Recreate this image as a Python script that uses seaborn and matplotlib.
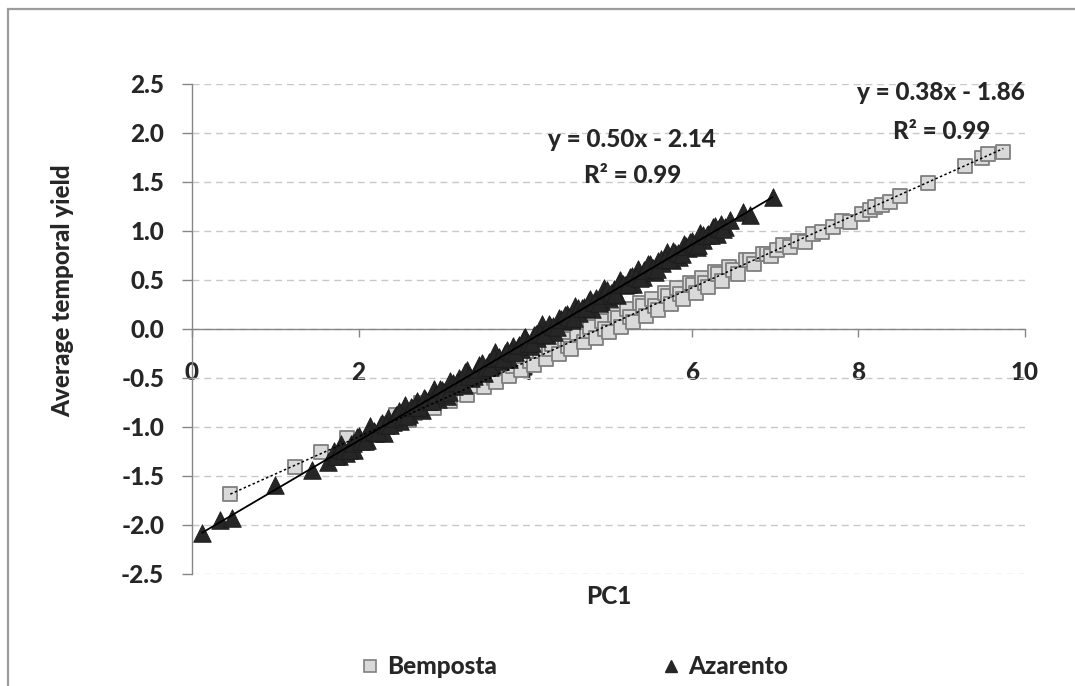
import matplotlib
matplotlib.use("Agg")
import matplotlib.pyplot as plt
from matplotlib.lines import Line2D
from matplotlib.patches import Rectangle
import seaborn as sns

# ---- data -------------------------------------------------------------
bemposta_pc1 = [0.46, 1.24, 1.55, 1.86, 2.20, 2.35, 2.45, 2.60, 2.68, 2.75,
                2.90, 3.00, 3.05, 3.10, 3.20, 3.30, 3.35, 3.40, 3.50, 3.58,
                3.62, 3.65, 3.72, 3.80, 3.85, 3.88, 3.95, 4.02, 4.06, 4.10,
                4.18, 4.25, 4.28, 4.32, 4.40, 4.48, 4.51, 4.55, 4.62, 4.70,
                4.74, 4.78, 4.85, 4.92, 4.96, 5.00, 5.08, 5.12, 5.15, 5.22,
                5.26, 5.30, 5.38, 5.41, 5.45, 5.52, 5.56, 5.60, 5.68, 5.71,
                5.75, 5.82, 5.86, 5.90, 5.98, 6.01, 6.05, 6.12, 6.16, 6.20,
                6.28, 6.32, 6.36, 6.45, 6.50, 6.55, 6.65, 6.70, 6.75, 6.85,
                6.90, 6.95, 7.02, 7.10, 7.18, 7.27, 7.36, 7.46, 7.56, 7.70,
                7.80, 7.90, 8.04, 8.14, 8.20, 8.28, 8.38, 8.50, 8.84, 9.28,
                9.48, 9.56, 9.74]
bemposta_yield = [-1.68, -1.41, -1.26, -1.11, -1.07, -0.97, -0.88, -0.93, -0.86, -0.76,
                  -0.81, -0.66, -0.71, -0.74, -0.60, -0.67, -0.58, -0.50, -0.59, -0.45,
                  -0.50, -0.54, -0.39, -0.48, -0.38, -0.33, -0.42, -0.27, -0.33, -0.37,
                  -0.22, -0.31, -0.20, -0.15, -0.26, -0.10, -0.17, -0.20, -0.04, -0.13,
                  -0.02, 0.02, -0.09, 0.08, 0.00, -0.03, 0.14, 0.11, 0.02, 0.20,
                  0.12, 0.07, 0.26, 0.23, 0.13, 0.31, 0.23, 0.19, 0.37, 0.34,
                  0.25, 0.42, 0.36, 0.31, 0.47, 0.45, 0.37, 0.52, 0.47, 0.43,
                  0.58, 0.56, 0.49, 0.63, 0.60, 0.56, 0.70, 0.70, 0.66, 0.77,
                  0.76, 0.74, 0.81, 0.86, 0.84, 0.90, 0.89, 0.97, 0.99, 1.04,
                  1.10, 1.09, 1.17, 1.21, 1.24, 1.26, 1.30, 1.36, 1.49, 1.66,
                  1.74, 1.79, 1.81]

azarento_pc1 = [0.12, 0.34, 0.48, 1.00, 1.44, 1.63,
                1.70, 1.76, 1.79, 1.85, 1.91, 1.94, 2.00, 2.06, 2.10, 2.14,
                2.20, 2.26, 2.30, 2.35, 2.41, 2.45, 2.50, 2.56, 2.60, 2.64,
                2.70, 2.76, 2.80, 2.85, 2.91, 2.95, 3.00, 3.06, 3.10, 3.14,
                3.20, 3.26, 3.30, 3.35, 3.41, 3.45, 3.50, 3.56, 3.60, 3.64,
                3.70, 3.76, 3.80, 3.85, 3.91, 3.95, 4.00, 4.06, 4.10, 4.14,
                4.20, 4.26, 4.30, 4.35, 4.41, 4.45, 4.50, 4.56, 4.60, 4.64,
                4.70, 4.76, 4.80, 4.85, 4.91, 4.95, 5.00, 5.06, 5.10, 5.14,
                5.20, 5.26, 5.30, 5.35, 5.41, 5.45, 5.50, 5.56, 5.60, 5.64,
                5.70, 5.76, 5.80, 5.85, 5.91, 5.95, 6.00, 6.06, 6.10, 6.14,
                6.20, 6.26, 6.30, 6.35, 6.40,
                1.73, 1.78, 1.83, 1.88, 1.93, 1.98, 2.03, 2.08, 2.13, 2.18,
                2.23, 2.28, 2.33, 2.38, 2.43, 2.48, 2.53, 2.58, 2.63, 2.68,
                2.73, 2.78, 2.83, 2.88, 2.93, 2.98, 3.03, 3.08, 3.13, 3.18,
                3.23, 3.28, 3.33, 3.38, 3.43, 3.48, 3.53, 3.58, 3.63, 3.68,
                3.73, 3.78, 3.83, 3.88, 3.93, 3.98, 4.03, 4.08, 4.13, 4.18,
                4.23, 4.28, 4.33, 4.38, 4.43, 4.48, 4.53, 4.58, 4.63, 4.68,
                4.73, 4.78, 4.83, 4.88, 4.93, 4.98, 5.03, 5.08, 5.13, 5.18,
                5.23, 5.28, 5.33, 5.38, 5.43, 5.48, 5.53, 5.58, 5.63, 5.68,
                5.73, 5.78, 5.83, 5.88, 5.93, 5.98, 6.03, 6.08, 6.13, 6.18,
                6.23, 6.28, 6.33, 6.38,
                6.46, 6.61, 6.70, 6.97]
azarento_yield = [-2.08, -1.95, -1.93, -1.59, -1.44, -1.36,
                  -1.25, -1.30, -1.17, -1.27, -1.17, -1.23, -1.09, -1.12, -1.13, -0.99,
                  -1.06, -0.99, -1.06, -0.91, -0.95, -0.88, -0.94, -0.78, -0.87, -0.81,
                  -0.74, -0.83, -0.71, -0.74, -0.61, -0.71, -0.62, -0.68, -0.53, -0.58,
                  -0.50, -0.57, -0.42, -0.50, -0.44, -0.37, -0.45, -0.34, -0.36, -0.24,
                  -0.33, -0.25, -0.31, -0.17, -0.18, -0.20, -0.08, -0.17, -0.06, -0.09,
                  0.05, -0.06, 0.03, -0.03, 0.11, 0.08, 0.15, 0.09, 0.23, 0.16,
                  0.22, 0.29, 0.20, 0.32, 0.29, 0.42, 0.32, 0.41, 0.35, 0.50,
                  0.45, 0.53, 0.46, 0.61, 0.53, 0.59, 0.66, 0.58, 0.69, 0.67,
                  0.79, 0.70, 0.78, 0.73, 0.87, 0.83, 0.90, 0.84, 0.98, 0.91,
                  0.97, 1.04, 0.97, 1.07, 1.04,
                  -1.30, -1.22, -1.23, -1.23, -1.16, -1.10, -1.14, -1.14, -1.05, -1.04,
                  -1.05, -0.96, -0.98, -0.98, -0.91, -0.84, -0.89, -0.89, -0.80, -0.79,
                  -0.80, -0.70, -0.73, -0.73, -0.66, -0.61, -0.64, -0.64, -0.55, -0.54,
                  -0.55, -0.44, -0.48, -0.48, -0.41, -0.35, -0.39, -0.39, -0.30, -0.29,
                  -0.30, -0.21, -0.23, -0.23, -0.16, -0.09, -0.14, -0.14, -0.05, -0.04,
                  -0.05, 0.05, 0.03, 0.02, 0.10, 0.14, 0.12, 0.11, 0.21, 0.21,
                  0.21, 0.31, 0.28, 0.27, 0.35, 0.40, 0.37, 0.36, 0.46, 0.46,
                  0.46, 0.54, 0.53, 0.52, 0.60, 0.66, 0.62, 0.61, 0.71, 0.71,
                  0.71, 0.80, 0.78, 0.77, 0.85, 0.89, 0.87, 0.86, 0.96, 0.96,
                  0.96, 1.05, 1.03, 1.02,
                  1.11, 1.19, 1.16, 1.35]

# linear trend lines: slope, intercept, R^2
bemposta_slope, bemposta_intercept, bemposta_r2 = 0.38, -1.86, 0.99
azarento_slope, azarento_intercept, azarento_r2 = 0.50, -2.14, 0.99

x_ticks = [0, 2, 4, 6, 8, 10]
y_ticks = [-2.5, -2.0, -1.5, -1.0, -0.5, 0.0, 0.5, 1.0, 1.5, 2.0, 2.5]

# ---- style ------------------------------------------------------------
sns.set_theme(style="white")
plt.rcParams['font.family'] = ['Lato', 'DejaVu Sans']
plt.rcParams['font.weight'] = 'black'
plt.rcParams['axes.labelweight'] = 'black'

AXIS_GREY = '#868686'
FS = 17.5
W = 'black'

fig = plt.figure(figsize=(10.75, 6.86), dpi=100)
ax = fig.add_axes([0.1786, 0.1633, 0.7749, 0.7143])

# chart-area border
fig.add_artist(Rectangle((8 / 1075, -0.05), 1.2, 1 - 9 / 686 + 0.05,
                         transform=fig.transFigure, fill=False,
                         edgecolor='#9c9c9c', linewidth=1.6))

# markers (Azarento drawn over Bemposta)
sns.scatterplot(x=bemposta_pc1, y=bemposta_yield, marker='s', s=105,
                color='#d9d9d9', edgecolor='#7f7f7f', linewidth=1.3,
                ax=ax, zorder=3, legend=False)
sns.scatterplot(x=azarento_pc1, y=azarento_yield, marker='^', s=160,
                color='#262626', edgecolor='#1c1c1c', linewidth=0.6,
                ax=ax, zorder=4, legend=False)

# trend lines
bx = [min(bemposta_pc1), max(bemposta_pc1)]
ax.plot(bx, [bemposta_slope * v + bemposta_intercept for v in bx],
        color='black', lw=1.1, ls=(0, (1.6, 1.6)), zorder=5)
axx = [min(azarento_pc1), max(azarento_pc1)]
ax.plot(axx, [azarento_slope * v + azarento_intercept for v in axx],
        color='black', lw=1.3, zorder=5)

# trend-line equations
def eq_text(slope, intercept):
    sign = '-' if intercept < 0 else '+'
    return f"y = {slope:.2f}x {sign} {abs(intercept):.2f}"

ax.text(5.28, 1.93, eq_text(azarento_slope, azarento_intercept),
        ha='center', va='center', fontsize=FS, fontweight=W)
ax.text(5.29, 1.57, f"R\u00b2 = {azarento_r2:.2f}",
        ha='center', va='center', fontsize=FS, fontweight=W)
ax.text(8.99, 2.41, eq_text(bemposta_slope, bemposta_intercept),
        ha='center', va='center', fontsize=FS, fontweight=W)
ax.text(9.00, 2.02, f"R\u00b2 = {bemposta_r2:.2f}",
        ha='center', va='center', fontsize=FS, fontweight=W)

# axes
ax.set_xlim(0, 10)
ax.set_ylim(-2.5, 2.5)
ax.set_xticks(x_ticks)
ax.set_yticks(y_ticks)
ax.set_xticklabels([str(v) for v in x_ticks], fontweight=W)
ax.set_yticklabels([f"{v:.1f}" for v in y_ticks], fontweight=W)
ax.spines['top'].set_visible(False)
ax.spines['right'].set_visible(False)
ax.spines['bottom'].set_position(('data', 0))
for side in ('left', 'bottom'):
    ax.spines[side].set_color(AXIS_GREY)
    ax.spines[side].set_linewidth(1.0)
    ax.spines[side].set_zorder(2)
ax.tick_params(axis='x', bottom=True, direction='out', length=6, width=1,
               color=AXIS_GREY, pad=17, labelsize=FS)
ax.tick_params(axis='y', left=True, direction='out', length=7, width=1,
               color=AXIS_GREY, pad=13, labelsize=FS)
ax.grid(axis='y', color='#c8c8c8', linewidth=1.0, linestyle=(0, (5, 3.5)))
ax.grid(axis='x', visible=False)
ax.set_axisbelow(True)

ax.set_xlabel('PC1', fontsize=FS, fontweight=W)
ax.xaxis.label.set_va('center')
ax.xaxis.set_label_coords(0.5, -23 / 490)
ax.set_ylabel('Average temporal yield', fontsize=FS, fontweight=W)
ax.yaxis.label.set_va('center')
ax.yaxis.set_label_coords(-129 / 833, (574 - 291) / 490)

# legend
handles = [
    Line2D([], [], marker='s', linestyle='none', markersize=8,
           markerfacecolor='#d9d9d9', markeredgecolor='#7f7f7f', markeredgewidth=1.2),
    Line2D([], [], marker='^', linestyle='none', markersize=8,
           markerfacecolor='#262626', markeredgecolor='#262626'),
]
fig.legend(handles, ['Bemposta', 'Azarento'], loc='center',
           bbox_to_anchor=(575 / 1075, 1 - 667 / 686), ncol=2, frameon=False,
           handlelength=0.7, handletextpad=0.35, columnspacing=6.8,
           prop={'weight': W, 'size': FS})

fig.savefig('out.png', dpi=100)
